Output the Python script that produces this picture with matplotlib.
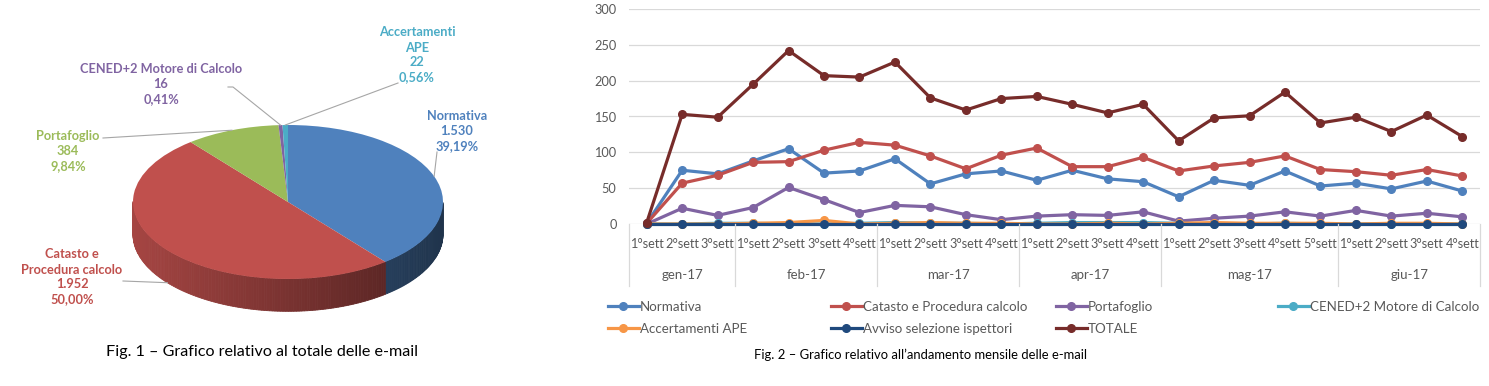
import numpy as np
import matplotlib
matplotlib.use('Agg')
import matplotlib.pyplot as plt
from matplotlib.colors import to_rgb
from matplotlib.patches import Polygon
from matplotlib.lines import Line2D

plt.rcParams['font.family'] = ['Lato', 'DejaVu Sans']

# --- dati torta (totale e-mail)
pie_names = ['Normativa', 'Catasto e\nProcedura calcolo', 'Portafoglio',
             'CENED+2 Motore di Calcolo', 'Accertamenti\nAPE']
pie_values = [1530, 1952, 384, 16, 22]
pie_colors = ['#4F81BD', '#C0504D', '#9BBB59', '#8064A2', '#4BACC6']

# --- dati andamento settimanale
months = ['gen-17', 'feb-17', 'mar-17', 'apr-17', 'mag-17', 'giu-17']
weeks_per_month = [3, 4, 4, 4, 5, 4]
week_labels = ['1°sett', '2°sett', '3°sett',
               '1°sett', '2°sett', '3°sett', '4°sett',
               '1°sett', '2°sett', '3°sett', '4°sett',
               '1°sett', '2°sett', '3°sett', '4°sett',
               '1°sett', '2°sett', '3°sett', '4°sett', '5°sett',
               '1°sett', '2°sett', '3°sett', '4°sett']

normativa = [1, 75, 70, 88, 105, 71, 74, 91, 56, 70, 74, 61, 75, 63, 59, 38, 61, 54, 74, 53, 57, 49, 60, 46]
catasto = [1, 57, 68, 86, 87, 103, 114, 110, 95, 77, 96, 106, 80, 80, 93, 74, 81, 86, 95, 76, 73, 68, 76, 67]
portafoglio = [0, 22, 12, 23, 51, 34, 16, 26, 24, 13, 6, 11, 13, 12, 17, 4, 8, 11, 17, 11, 19, 11, 15, 10]
cened = [0, 0, 1, 1, 0, 0, 1, 2, 1, 1, 0, 1, 2, 2, 2, 1, 0, 0, 1, 0, 0, 0, 0, 0]
accertamenti = [0, 0, 0, 1, 2, 5, 0, 1, 2, 1, 1, 0, 0, 1, 0, 1, 2, 1, 1, 1, 0, 1, 1, 0]
avviso = [0] * 24
totale = [2, 153, 149, 195, 242, 207, 205, 226, 176, 159, 175, 178, 167, 155, 167, 116, 148, 151, 184, 141, 149, 129, 152, 122]

series = [
    ('Normativa', normativa, '#4F81BD'),
    ('Catasto e Procedura calcolo', catasto, '#C0504D'),
    ('Portafoglio', portafoglio, '#8064A2'),
    ('CENED+2 Motore di Calcolo', cened, '#4BACC6'),
    ('Accertamenti APE', accertamenti, '#F79646'),
    ('Avviso selezione ispettori', avviso, '#1F497D'),
    ('TOTALE', totale, '#772C2A'),
]

W, H = 1489, 386
fig = plt.figure(figsize=(W / 100, H / 100), dpi=100)

# ================= Fig. 1 : torta 3D =================
ax1 = fig.add_axes([0, 0, 580 / W, 1])
rx, ry = 155, 77          # semiassi in pixel
cx, cy = 288, 184         # centro (dal basso)
depth = 0.42

total = sum(pie_values)
cum = np.concatenate([[0], np.cumsum(pie_values)]) / total

# parete laterale con sfumatura
for i, col in enumerate(pie_colors):
    a0 = 90 - 360 * cum[i]
    a1 = 90 - 360 * cum[i + 1]
    steps = np.linspace(a0, a1, max(2, int(abs(a1 - a0)) + 2))
    for t0, t1 in zip(steps[:-1], steps[1:]):
        tm = np.radians((t0 + t1) / 2)
        if np.sin(tm) >= 0:
            continue
        f = 0.63 - 0.23 * np.cos(tm)
        c = np.clip(np.array(to_rgb(col)) * f, 0, 1)
        r0, r1 = np.radians(t0), np.radians(t1)
        poly = [(np.cos(r0), np.sin(r0)), (np.cos(r1), np.sin(r1)),
                (np.cos(r1), np.sin(r1) - depth), (np.cos(r0), np.sin(r0) - depth)]
        ax1.add_patch(Polygon(poly, closed=True, facecolor=c, edgecolor=c, lw=0.6, zorder=1))

ax1.pie(pie_values, colors=pie_colors, startangle=90, counterclock=False,
        wedgeprops=dict(linewidth=0, zorder=2))
ax1.set_aspect('auto')
ax1.set_xlim(-cx / rx, (580 - cx) / rx)
ax1.set_ylim(-cy / ry, (H - cy) / ry)
ax1.axis('off')


def px(x, y):
    # pixel (dall'alto) -> coordinate dati della torta
    return (x - cx) / rx, ((H - y) - cy) / ry


label_pos = [(457, 131), (72, 277), (68, 151), (161, 84), (417, 55)]
line_start = [[(437, 152)], [(123, 281)], [(103, 138)], [(228, 87), (233, 87)], [(398, 83)]]
for i, name in enumerate(pie_names):
    v = pie_values[i]
    val = f'{v:,}'.replace(',', '.')
    pct = f'{100 * v / total:.2f}%'.replace('.', ',')
    lx, ly = px(*label_pos[i])
    ax1.text(lx, ly, f'{name}\n{val}\n{pct}', color=pie_colors[i], ha='center', va='center',
             fontsize=9.2, fontweight='bold', linespacing=1.3, zorder=5)
    mid = np.radians(90 - 360 * (cum[i] + cum[i + 1]) / 2)
    ex, ey = np.cos(mid), np.sin(mid)
    if ey < 0:
        ey -= depth
    pts = [px(*p) for p in line_start[i]] + [(ex, ey)]
    ax1.plot([p[0] for p in pts], [p[1] for p in pts], color='#A6A6A6', lw=0.8, zorder=4)

fig.text(262 / W, 1 - 352 / H, 'Fig. 1 – Grafico relativo al totale delle e-mail',
         ha='center', va='center', fontsize=11.6)

# ================= Fig. 2 : andamento =================
left, right, top, bottom = 629, 1480, 9, 224
ax2 = fig.add_axes([left / W, 1 - bottom / H, (right - left) / W, (bottom - top) / H])
x = np.arange(len(week_labels))
for name, vals, col in series:
    ax2.plot(x, vals, color=col, lw=2.3, marker='o', markersize=5.5, label=name,
             solid_joinstyle='round', clip_on=False)

ax2.set_xlim(-0.5, len(week_labels) - 0.5)
ax2.set_ylim(0, 300)
ax2.set_yticks(range(0, 301, 50))
ax2.grid(axis='y', color='#D9D9D9', lw=0.9)
ax2.set_axisbelow(True)
for s in ax2.spines.values():
    s.set_visible(False)
ax2.set_xticks(x)
ax2.set_xticklabels(week_labels)
ax2.tick_params(axis='both', length=0, labelsize=9.2, labelcolor='#595959')
ax2.tick_params(axis='x', pad=10)
ax2.tick_params(axis='y', pad=9)

sep_h = (286 - bottom) / (bottom - top)
bounds = np.concatenate([[0], np.cumsum(weeks_per_month)]) - 0.5
trans = ax2.get_xaxis_transform()
for b in bounds:
    ax2.add_line(Line2D([b, b], [0, -sep_h], transform=trans, color='#D9D9D9', lw=0.9, clip_on=False))
for m, a, b in zip(months, bounds[:-1], bounds[1:]):
    ax2.text((a + b) / 2, -(275 - bottom) / (bottom - top), m, transform=trans,
             ha='center', va='center', fontsize=9.5, color='#595959')

# legenda a colonne fisse
handles = {h.get_label(): h for h in ax2.get_lines()}
columns = [['Normativa', 'Accertamenti APE'],
           ['Catasto e Procedura calcolo', 'Avviso selezione ispettori'],
           ['Portafoglio', 'TOTALE'],
           ['CENED+2 Motore di Calcolo']]
col_x = [608, 831, 1056, 1278]
for names, cxl in zip(columns, col_x):
    fig.legend([handles[n] for n in names], names, loc='upper left',
               bbox_to_anchor=(cxl / W, 1 - 301 / H), frameon=False, fontsize=9.6,
               handlelength=2.3, handletextpad=0.1, borderpad=0, borderaxespad=0,
               labelspacing=0.75, labelcolor='#595959')

fig.text(921 / W, 1 - 355 / H, 'Fig. 2 – Grafico relativo all’andamento mensile delle e-mail',
         ha='center', va='center', fontsize=9.4)

fig.savefig('out.png', dpi=100)
